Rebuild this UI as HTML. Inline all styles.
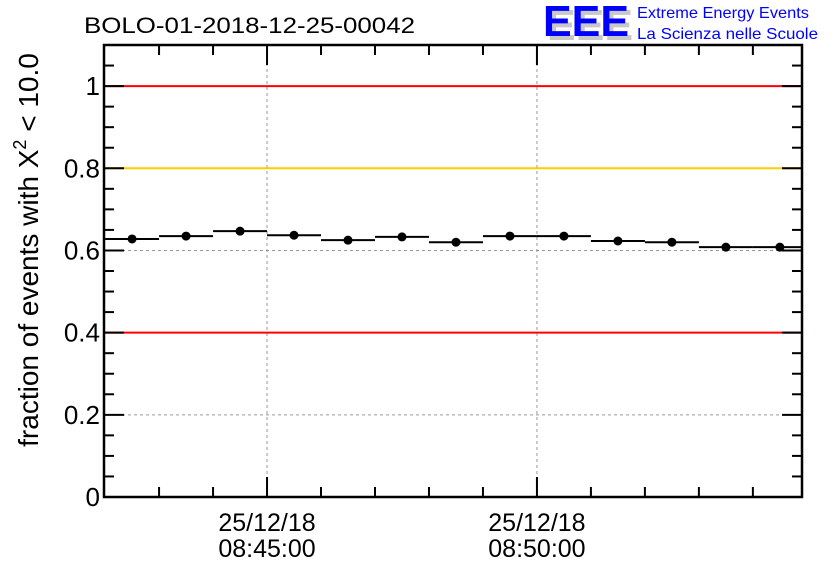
<!DOCTYPE html>
<html><head><meta charset="utf-8"><style>
html,body{margin:0;padding:0;background:#fff;}
svg{display:block;font-family:"Liberation Sans",sans-serif;}
</style></head><body>
<svg id="chart" width="836" height="572" viewBox="0 0 836 572" xmlns="http://www.w3.org/2000/svg">
<text x="84" y="33" font-size="22" fill="#000" textLength="331" lengthAdjust="spacingAndGlyphs">BOLO-01-2018-12-25-00042</text>
<g>
<text x="547" y="40" font-size="44" font-weight="bold" fill="#c8c8c8" textLength="86" lengthAdjust="spacingAndGlyphs">EEE</text>
<text x="543" y="36" font-size="44" font-weight="bold" fill="#0000ff" textLength="86" lengthAdjust="spacingAndGlyphs">EEE</text>
<text x="637" y="18" font-size="16" fill="#0000ff" textLength="172" lengthAdjust="spacingAndGlyphs">Extreme Energy Events</text>
<text x="637" y="39" font-size="16" fill="#0000ff" textLength="181" lengthAdjust="spacingAndGlyphs">La Scienza nelle Scuole</text>
</g>
<text transform="translate(38,250) rotate(-90)" text-anchor="middle" font-size="28" fill="#000">fraction of events with X<tspan dy="-12" font-size="18">2</tspan><tspan dy="12"> &lt; 10.0</tspan></text>
<g id="plot"></g>
</svg>
<script>
const yTicks = [0, 0.2, 0.4, 0.6, 0.8, 1];
const yTickLabels = ["0", "0.2", "0.4", "0.6", "0.8", "1"];
const xTickMinutes = [3, 8];
const xTickLabels = [["25/12/18","08:45:00"],["25/12/18","08:50:00"]];
const binMinutes = [0,1,2,3,4,5,6,7,8,9,10,11,12];
const fractions = [0.628,0.635,0.647,0.637,0.625,0.633,0.620,0.635,0.635,0.623,0.620,0.608,0.608];
const refLinesVal = [1.0, 0.8, 0.4];
const refLinesColor = ["#ff0000", "#ffcc00", "#ff0000"];

const L=104, R=802, T=45, B=497;
const xMin=-0.02, xMax=12.91, yMin=0, yMax=1.1;
const xs = m => L + (m - xMin)/(xMax - xMin)*(R-L);
const ys = v => B - (v - yMin)/(yMax - yMin)*(B-T);
const NS="http://www.w3.org/2000/svg";
const g=document.getElementById('plot');
function mk(tag, attrs){const e=document.createElementNS(NS,tag);for(const k in attrs)e.setAttribute(k,attrs[k]);g.appendChild(e);return e;}

xTickMinutes.forEach(m=>{
  const e=mk('line',{x1:xs(m),x2:xs(m),y1:T,y2:B,stroke:'#999','stroke-width':1,'stroke-dasharray':'3,3'});
  
  
});
yTicks.forEach(v=>{ if(v<=0||v>=1.05) return;
  const e=mk('line',{x1:L,x2:R,y1:ys(v),y2:ys(v),stroke:'#999','stroke-width':1,'stroke-dasharray':'3,3'});
  
  
});
refLinesVal.forEach((v,i)=>{
  const e=mk('line',{x1:L,x2:R,y1:ys(v),y2:ys(v),stroke:refLinesColor[i],'stroke-width':2});
  
  
});
fractions.forEach((f,i)=>{
  const m=binMinutes[i];
  const x1=xs(m), x2=Math.min(xs(m+1),R), y=ys(f);
  const s=mk('line',{x1:x1,x2:x2,y1:y,y2:y,stroke:'#000','stroke-width':2});
  
  
  const c=mk('circle',{cx:(xs(m)+xs(m+1))/2,cy:y,r:4.5,fill:'#000'});
  
  
});
for(let k=0;k<=22;k++){
  const v=k*0.05; const y=ys(v); const major=(k%4===0); const len=major?20:10;
  const a=mk('line',{x1:L,x2:L+len,y1:y,y2:y,stroke:'#000','stroke-width':2});
  
  
  const b=mk('line',{x1:R-len,x2:R,y1:y,y2:y,stroke:'#000','stroke-width':2});
  
  
}
yTicks.forEach((v,i)=>{
  const t=mk('text',{x:L-4,y:ys(v)+9,'text-anchor':'end','font-size':26,fill:'#000'});
  t.textContent=yTickLabels[i];
  
  
});
for(let m=1;m<=12;m++){
  const x=xs(m); const major=xTickMinutes.includes(m); const len=major?20:10;
  const a=mk('line',{x1:x,x2:x,y1:B-len,y2:B,stroke:'#000','stroke-width':2});
  
  
  const b=mk('line',{x1:x,x2:x,y1:T,y2:T+len,stroke:'#000','stroke-width':2});
  
  
}
xTickMinutes.forEach((m,i)=>{
  [0,1].forEach(j=>{
    const t=mk('text',{x:xs(m),y:531+j*26,'text-anchor':'middle','font-size':25,fill:'#000'});
    t.textContent=xTickLabels[i][j];
    
    
  });
});
const fr=mk('rect',{x:L,y:T,width:R-L,height:B-T,fill:'none',stroke:'#000','stroke-width':2.5});


</script>
</body></html>
